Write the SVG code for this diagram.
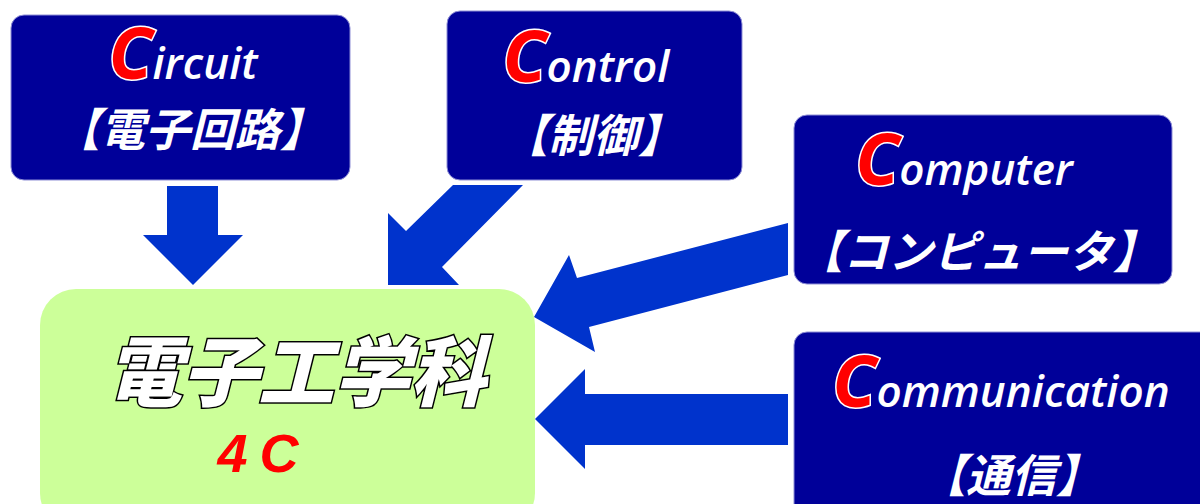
<svg xmlns="http://www.w3.org/2000/svg" width="1200" height="504" viewBox="0 0 1200 504">
<style>
.box{fill:#000099;stroke:#8f8fd6;stroke-width:1}
.en{font-family:"Open Sans","Noto Sans",sans-serif;font-weight:600;font-style:italic;fill:#fff;font-size:44px}
.big{fill:#ff0000;stroke:#fff;stroke-width:3;paint-order:stroke;font-size:72px;font-weight:bold}
.jp{font-family:"Noto Sans CJK JP",sans-serif;font-weight:bold;font-style:italic;fill:#fff;font-size:45px}
.arrow{fill:#0033cc}
</style>
<rect width="1200" height="504" fill="#fff"/>
<g id="connectors">
<polygon class="arrow" points="167,186 218,186 218,235 243,235 193,285 143,235 167,235"/>
<polygon class="arrow" points="453,185 523,185 442,267 459,285 388,285 388,213 406,231"/>
<polygon class="arrow" points="788,223 788,275 589,327 595,352 534,317 569,255 577,278"/>
<polygon class="arrow" points="788,394 788,445 585,445 585,469 535,419 585,369 585,394"/>
</g>
<g id="circuit">
<rect class="box" x="11" y="15" width="339" height="165" rx="13"/>
<text class="en" x="183" y="79" text-anchor="middle"><tspan class="big">C</tspan>ircuit</text>
<text class="jp" x="190" y="146" text-anchor="middle">【電子回路】</text>
</g>
<g id="control">
<rect class="box" x="447" y="11" width="295" height="169" rx="13"/>
<text class="en" x="586" y="82" text-anchor="middle"><tspan class="big">C</tspan>ontrol</text>
<text class="jp" x="593" y="152" text-anchor="middle">【制御】</text>
</g>
<g id="computer">
<rect class="box" x="794" y="115" width="378" height="169" rx="13"/>
<text class="en" x="964" y="185" text-anchor="middle"><tspan class="big">C</tspan>omputer</text>
<text class="jp" x="978" y="268" text-anchor="middle">【コンピュータ】</text>
</g>
<g id="communication">
<rect class="box" x="794" y="332" width="420" height="190" rx="13"/>
<text class="en" x="1001" y="407" text-anchor="middle"><tspan class="big">C</tspan>ommunication</text>
<text class="jp" x="1011" y="492" text-anchor="middle">【通信】</text>
</g>
<g id="dept">
<rect x="40" y="289" width="495" height="240" rx="36" fill="#ccff99"/>
<text x="296" y="400" text-anchor="middle" font-family="Noto Sans CJK JP,sans-serif" font-weight="900" font-style="italic" font-size="76" fill="#fff" stroke="#000" stroke-width="3" paint-order="stroke">電子工学科</text>
<text x="264" y="472" text-anchor="middle" font-family="Liberation Sans,Arial,sans-serif" font-weight="bold" font-style="italic" font-size="54" fill="#ff0000" letter-spacing="12">4C</text>
</g>
</svg>
